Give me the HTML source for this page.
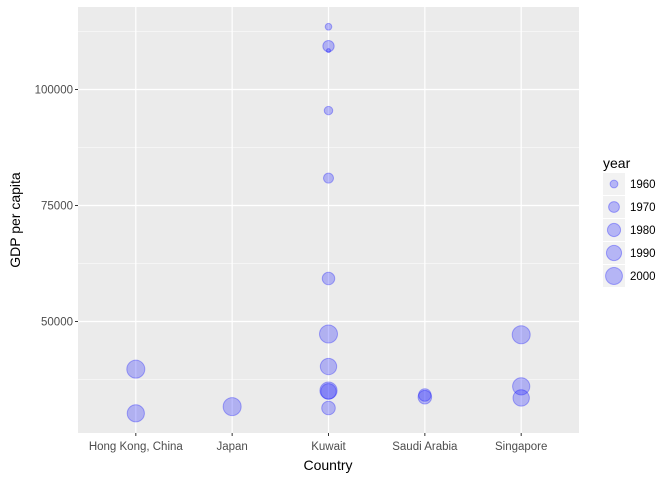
<!DOCTYPE html>
<html><head><meta charset="utf-8"><style>
body{margin:0;background:#fff;font-family:"Liberation Sans",Arial,sans-serif}
svg text{font-family:"Liberation Sans",Arial,sans-serif}
</style></head><body>
<svg id="chart" width="672" height="480" xmlns="http://www.w3.org/2000/svg">
<rect x="78" y="7" width="501" height="426" fill="#ebebeb"/>
<g id="grid"></g><g id="pts"></g><g id="axes"></g>
<text x="328" y="470" text-anchor="middle" font-size="14" fill="#000">Country</text>
<text transform="translate(20,220) rotate(-90)" text-anchor="middle" font-size="14" fill="#000">GDP per capita</text>
<g id="legend">
<text x="603" y="168" font-size="14" fill="#000">year</text>
</g>
</svg>
<script>
const countries=["Hong Kong, China","Japan","Kuwait","Saudi Arabia","Singapore"];
const ptCountry=["Kuwait","Kuwait","Kuwait","Kuwait","Kuwait","Kuwait","Kuwait","Kuwait","Kuwait","Kuwait","Kuwait","Hong Kong, China","Hong Kong, China","Japan","Saudi Arabia","Saudi Arabia","Singapore","Singapore","Singapore"];
const ptYear=[1952,1957,1962,1967,1972,1977,1982,1992,1997,2002,2007,2007,2002,2007,1977,1982,2007,2002,1997];
const ptGdp=[108382,113523,95458,80894,109347,59265,31354,34932,40301,35110,47307,39725,30209,31656,34168,33693,47143,36023,33519];
const yTicks=[50000,75000,100000];
const yMinor=[37500,62500,87500,112500];
const legendYears=[1960,1970,1980,1990,2000];
const NS="http://www.w3.org/2000/svg";
const X0=78,X1=579,step=(X1-X0)/(countries.length-1+1.2);
function xs(c){return X0+step*(0.6+countries.indexOf(c));}
function ys(v){return 321.5-(v-50000)*116/25000;}
function rs(yr){return Math.sqrt(4+(yr-1952)/55*77);}
function mk(t,a,p){const e=document.createElementNS(NS,t);for(const k in a)e.setAttribute(k,a[k]);(p||document.getElementById('chart')).appendChild(e);return e;}
const g=document.getElementById('grid'),ax=document.getElementById('axes'),pg=document.getElementById('pts');
yMinor.forEach(v=>{const e=mk('line',{x1:X0,x2:X1,y1:ys(v),y2:ys(v),stroke:'#fff','stroke-width':0.6},g);

});
yTicks.forEach(v=>{const e=mk('line',{x1:X0,x2:X1,y1:ys(v),y2:ys(v),stroke:'#fff','stroke-width':1.2},g);


const t=mk('line',{x1:X0-3,x2:X0,y1:ys(v),y2:ys(v),stroke:'#333','stroke-width':1},ax);


const l=mk('text',{x:X0-5,y:ys(v)+4,'text-anchor':'end','font-size':11.5,fill:'#4d4d4d'},ax);l.textContent=v;

});
countries.forEach(c=>{const x=xs(c);const e=mk('line',{x1:x,x2:x,y1:7,y2:433,stroke:'#fff','stroke-width':1.2},g);


const t=mk('line',{x1:x,x2:x,y1:433,y2:436,stroke:'#333','stroke-width':1},ax);


const l=mk('text',{x:x,y:450,'text-anchor':'middle','font-size':11.5,fill:'#4d4d4d'},ax);l.textContent=c;

});
ptCountry.forEach((c,i)=>{const e=mk('circle',{cx:xs(c),cy:ys(ptGdp[i]),r:rs(ptYear[i]),fill:'rgba(0,0,255,0.25)',stroke:'rgba(0,0,255,0.3)','stroke-width':1},pg);

});
const lg=document.getElementById('legend');
legendYears.forEach((yr,i)=>{const y=173+i*23;
const b=mk('rect',{x:603,y:y,width:22,height:22,fill:'#f2f2f2'},lg);


const c=mk('circle',{cx:614,cy:y+11,r:rs(yr),fill:'rgba(0,0,255,0.25)',stroke:'rgba(0,0,255,0.3)'},lg);


const t=mk('text',{x:630,y:y+15,'font-size':11.5,fill:'#000'},lg);t.textContent=yr;

});
</script>
</body></html>
